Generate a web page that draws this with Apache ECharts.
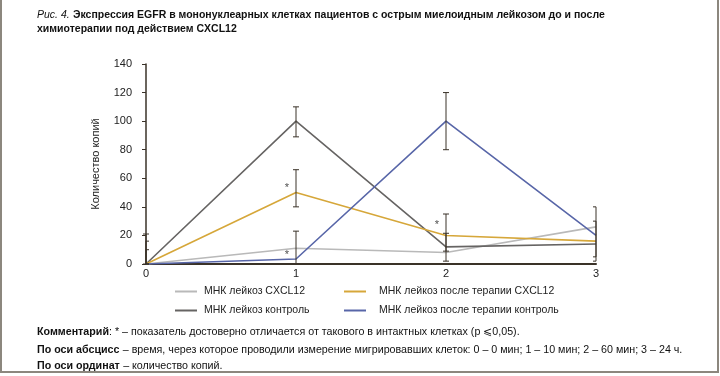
<!DOCTYPE html>
<html>
<head>
<meta charset="utf-8">
<script src="https://cdn.jsdelivr.net/npm/echarts@6/dist/echarts.min.js"></script>
<style>
  html, body { margin: 0; padding: 0; background: #fff; }
  #chart { width: 720px; height: 376px; }
</style>
</head>
<body>
<div id="chart"></div>
<script>
// time points (0 - 0 min, 1 - 10 min, 2 - 60 min, 3 - 24 h)
var timePoints = [0, 1, 2, 3];
var yTicks = [0, 20, 40, 60, 80, 100, 120, 140];

var seriesNames = [
    'МНК лейкоз CXCL12',
    'МНК лейкоз контроль',
    'МНК лейкоз после терапии CXCL12',
    'МНК лейкоз после терапии контроль'
];
var leukCxcl = [0, 11, 8, 26];
var leukCtrl = [0, 100, 12, 14];
var therCxcl = [0, 50, 20, 16];
var therCtrl = [0, 3.5, 100, 20];

// error bars: [x, low, high, capSide] (capSide: 0 both, 1 right, -1 left)
var errorBars = [
    [0, 0, 21, 0], [0, 0, 16, 1], [0, 0, 10, 1],
    [1, 89, 110, 0], [1, 40, 66, 0], [1, 0, 23, 0],
    [2, 80, 120, 0], [2, 2, 35, 0], [2, 9, 21.5, 0],
    [3, 2, 40, -1], [3, 5, 30, -1]
];
// significance marks
var stars = [[0.94, 53.5], [0.94, 6.5], [1.94, 27]];

(function () {
    var chart = echarts.init(document.getElementById('chart'));
    var font = "'Liberation Sans Narrow', 'Liberation Sans', Arial, sans-serif";
    var axisColor = '#3a3228';
    var colors = ['#b9b9b9', '#666463', '#d6a73a', '#5866a8'];
    var lines = [leukCxcl, leukCtrl, therCxcl, therCtrl];

    var lineSeries = lines.map(function (vals, i) {
        return {
            name: seriesNames[i],
            type: 'line',
            data: timePoints.map(function (t, j) { return [t, vals[j]]; }),
            symbol: 'none',
            z: 3,
            lineStyle: { width: 1.6, color: colors[i] },
            itemStyle: { color: colors[i] }
        };
    });

    var errSeries = {
        type: 'custom',
        z: 4,
        data: errorBars,
        renderItem: function (params, api) {
            var x = api.value(0);
            var lo = api.coord([x, api.value(1)]);
            var hi = api.coord([x, api.value(2)]);
            var side = api.value(3);
            var w = 3;
            var l = side === 1 ? 0 : w;
            var r = side === -1 ? 0 : w;
            var st = { stroke: axisColor, lineWidth: 1 };
            return {
                type: 'group',
                children: [
                    { type: 'line', shape: { x1: hi[0], y1: hi[1], x2: lo[0], y2: lo[1] }, style: st },
                    { type: 'line', shape: { x1: hi[0] - l, y1: hi[1], x2: hi[0] + r, y2: hi[1] }, style: st },
                    { type: 'line', shape: { x1: lo[0] - l, y1: lo[1], x2: lo[0] + r, y2: lo[1] }, style: st }
                ]
            };
        }
    };

    var starSeries = {
        type: 'scatter',
        data: stars,
        symbolSize: 0,
        silent: true,
        label: {
            show: true, formatter: '*', position: 'inside',
            color: '#222', fontSize: 11, fontFamily: font
        }
    };

    var text = function (x, y, rich, str) {
        return { type: 'text', left: x, top: y, style: { text: str, rich: rich, fontFamily: font } };
    };
    var richTitle = {
        i: { fontStyle: 'italic', fontSize: 10.5, fontFamily: font, fill: '#111' },
        b: { fontWeight: 'bold', fontSize: 10.5, fontFamily: font, fill: '#111' }
    };
    var richNote = {
        b: { fontWeight: 'bold', fontSize: 10.7, fontFamily: font, fill: '#111' },
        n: { fontSize: 10.7, fontFamily: font, fill: '#111' }
    };
    var legendText = { fontSize: 10.5, color: '#222', fontFamily: font, padding: [0, 0, 0, 2] };

    chart.setOption({
        animation: false,
        textStyle: { fontFamily: font },
        grid: { left: 146, right: 124, top: 64, bottom: 112 },
        legend: [{
            left: 170, top: 281, orient: 'vertical', itemGap: 8,
            icon: 'rect', itemWidth: 22, itemHeight: 2,
            data: [seriesNames[0], seriesNames[1]],
            textStyle: legendText
        }, {
            left: 339, top: 281, orient: 'vertical', itemGap: 8,
            icon: 'rect', itemWidth: 22, itemHeight: 2,
            data: [seriesNames[2], seriesNames[3]],
            textStyle: Object.assign({}, legendText, { padding: [0, 0, 0, 8] })
        }],
        xAxis: {
            type: 'value', min: 0, max: 3, interval: 1,
            axisLine: { show: true, lineStyle: { color: axisColor, width: 2 } },
            axisTick: { show: false },
            splitLine: { show: false },
            axisLabel: { color: '#222', fontSize: 11, margin: 4 }
        },
        yAxis: {
            type: 'value', min: yTicks[0], max: yTicks[yTicks.length - 1], interval: 20,
            offset: 7,
            name: 'Количество копий', nameLocation: 'middle', nameGap: 38,
            nameTextStyle: { fontSize: 11, color: '#222' },
            axisLine: { show: true, lineStyle: { color: axisColor, width: 1.5 } },
            axisTick: { show: true, length: 4, lineStyle: { color: axisColor } },
            splitLine: { show: false },
            axisLabel: { color: '#222', fontSize: 11, margin: 7 }
        },
        series: lineSeries.concat([errSeries, starSeries]),
        graphic: [
            { type: 'polyline', shape: { points: [[1, 0], [1, 372], [718, 372], [718, 0]] },
              style: { stroke: '#8c877e', lineWidth: 2, fill: null } },
            text(37, 9, richTitle, '{i|Рис. 4.} {b|Экспрессия EGFR в мононуклеарных клетках пациентов с острым миелоидным лейкозом до и после}'),
            text(37, 24, richTitle, '{b|химиотерапии под действием CXCL12}'),
            text(37, 327, richNote, '{b|Комментарий}{n|: * – показатель достоверно отличается от такового в интактных клетках (р ⩽0,05).}'),
            text(37, 344, richNote, '{b|По оси абсцисс} {n|– время, через которое проводили измерение мигрировавших клеток: 0 – 0 мин; 1 – 10 мин; 2 – 60 мин; 3 – 24 ч.}'),
            text(37, 360, richNote, '{b|По оси ординат} {n|– количество копий.}')
        ]
    });
}());
</script>
</body>
</html>
